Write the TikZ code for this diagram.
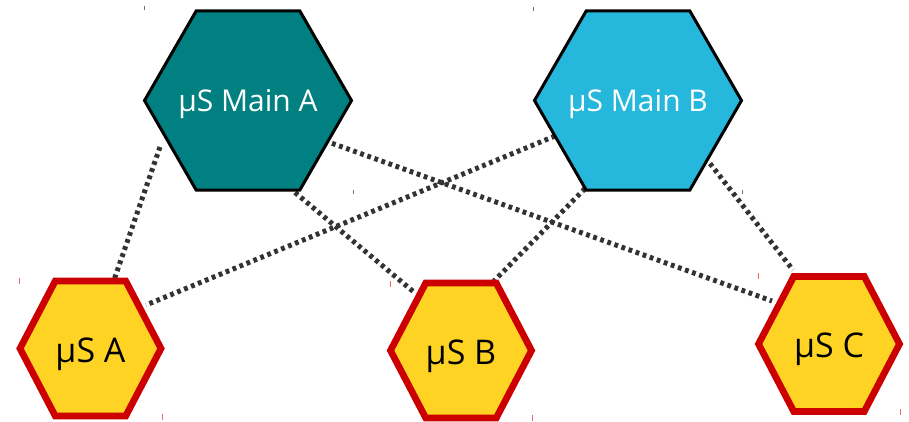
\documentclass[tikz,border=0pt]{standalone}
\usepackage{fontspec}
\setmainfont{Open Sans}
\usetikzlibrary{calc}

\definecolor{mainA}{RGB}{0,128,128}
\definecolor{mainB}{RGB}{38,183,220}
\definecolor{svcfill}{RGB}{255,211,35}
\definecolor{svcline}{RGB}{204,0,0}
\definecolor{linkgray}{RGB}{51,51,51}
\definecolor{tickgray}{RGB}{110,110,110}
\definecolor{tickred}{RGB}{230,110,110}

\pgfdeclarelayer{links}
\pgfdeclarelayer{hexes}
\pgfsetlayers{links,hexes,main}

% hexagon outline spanning the box of node #1, side points inset by a quarter of the width
\newcommand\hexoutline[2]{%
  \begin{pgfonlayer}{hexes}
    \path[#2] ($(#1.north west)!0.25!(#1.north east)$) -- ($(#1.north west)!0.75!(#1.north east)$)
      -- (#1.east) -- ($(#1.south west)!0.75!(#1.south east)$)
      -- ($(#1.south west)!0.25!(#1.south east)$) -- (#1.west) -- cycle;
  \end{pgfonlayer}}

\tikzset{
  hexbox/.style={rectangle, draw=none, inner sep=0pt, outer sep=0pt, align=center},
  mainhex/.style={hexbox, minimum width=207pt, minimum height=179.4pt,
    text=white, font=\fontsize{30}{35}\selectfont, text height=22pt, text depth=0pt},
  svchex/.style={hexbox, minimum width=141pt, minimum height=135pt,
    text=black, font=\fontsize{34}{40}\selectfont, text height=27pt, text depth=0pt},
  mainline/.style={draw=black, line width=3pt},
  svcline/.style={draw=svcline, fill=svcfill, line width=6.7pt},
  link/.style={draw=linkgray, line width=5pt, dash pattern=on 3.8pt off 3.7pt},
  tickmark/.style={line width=1pt}
}

\begin{document}
\begin{tikzpicture}[x=1pt, y=-1pt]
  \useasboundingbox (0,0) rectangle (909,422);

  % services and their hexagons
  \node[mainhex] (mA) at (248,100.5) {µS Main A};
  \node[mainhex] (mB) at (638,100.5) {µS Main B};
  \node[svchex] (sA) at (90.5,348.5) {µS A};
  \node[svchex] (sB) at (461,350.5) {µS B};
  \node[svchex] (sC) at (829,344) {µS C};

  \hexoutline{mA}{mainline, fill=mainA}
  \hexoutline{mB}{mainline, fill=mainB}
  \hexoutline{sA}{svcline}
  \hexoutline{sB}{svcline}
  \hexoutline{sC}{svcline}

  % dotted links between the main services and the small ones
  \begin{pgfonlayer}{links}
    \draw[link] ($(mA)+(-88,46.5)$) -- ($(sA)+(23.5,-68.5)$);
    \draw[link] ($(mA)+(84,42.8)$) -- ($(sC)+(-57,-43)$);
    \draw[link] ($(mA)+(47,92)$) -- ($(sB)+(-46,-57.5)$);
    \draw[link] ($(mB)+(-83,35.5)$) -- ($(sA)+(55.5,-43.5)$);
    \draw[link] ($(mB)+(-53,88)$) -- ($(sB)+(33,-69.5)$);
    \draw[link] ($(mB)+(72,63)$) -- ($(sC)+(-36,-74)$);
  \end{pgfonlayer}

  % small corner ticks around each shape
  \draw[tickmark, tickgray] (144.5,6.5) -- (144.5,10);
  \draw[tickmark, tickgray] (353.5,190) -- (353.5,193.5);
  \draw[tickmark, tickgray] (533.5,7.5) -- (533.5,11);
  \draw[tickmark, tickgray] (742.5,190) -- (742.5,193.5);
  \draw[tickmark, tickred] (19.5,278) -- (19.5,284);
  \draw[tickmark, tickred] (162.5,413.5) -- (162.5,419.5);
  \draw[tickmark, tickred] (390.5,281) -- (390.5,287);
  \draw[tickmark, tickred] (532.5,415) -- (532.5,421);
  \draw[tickmark, tickred] (758.5,273) -- (758.5,279);
  \draw[tickmark, tickred] (900.5,408.5) -- (900.5,414.5);
\end{tikzpicture}
\end{document}
